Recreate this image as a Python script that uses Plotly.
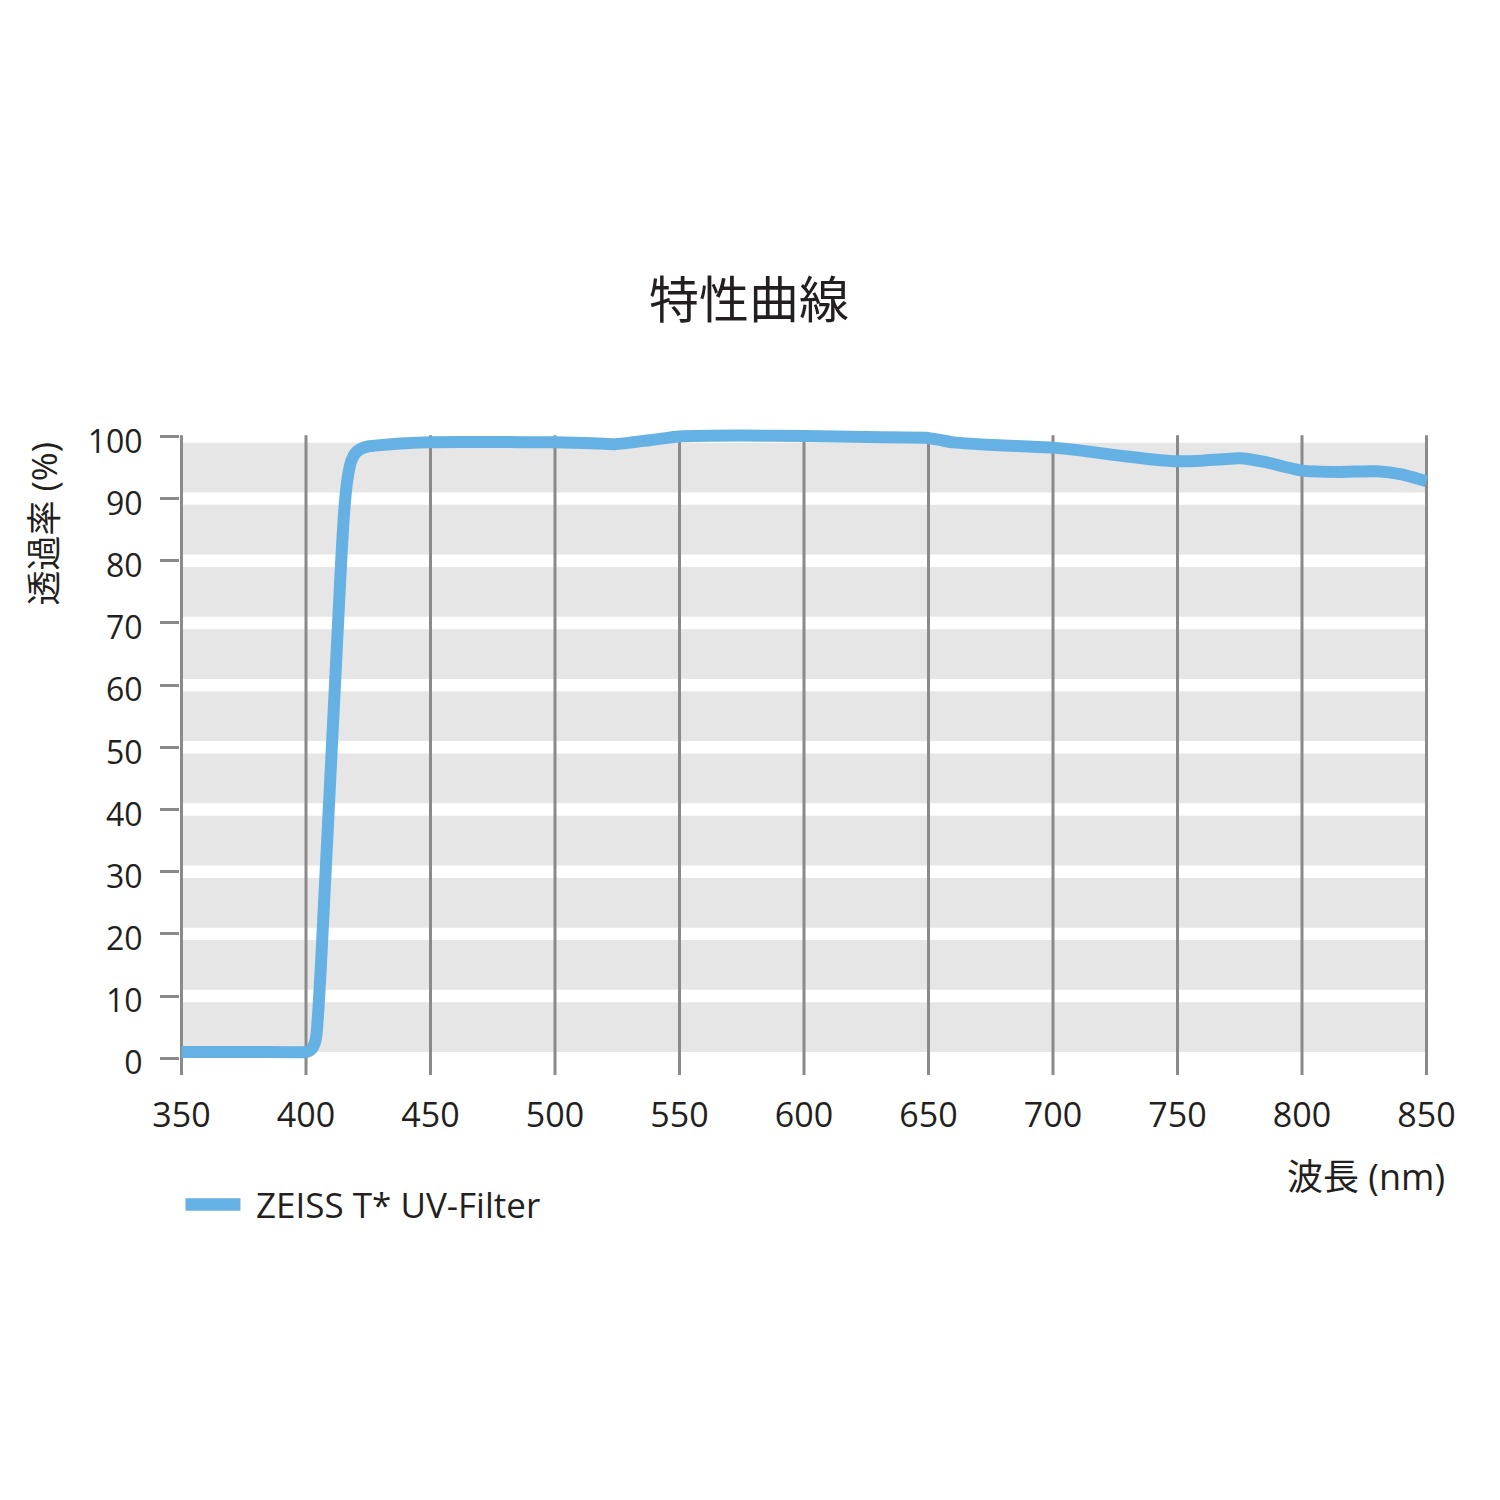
import plotly.graph_objects as go

# ---------------- data ----------------
wavelength = [350, 380, 400, 401.5, 402.5, 403.5, 404.2, 405, 406, 407, 408, 409, 410,
              411, 412, 413, 414, 415, 416, 417, 418, 419, 420, 422, 425, 430, 440, 450,
              475, 500, 515, 524, 538, 550, 575, 600, 625, 649, 655, 660, 680, 690, 700,
              710, 725, 740, 750, 760, 775, 785, 800, 815, 830, 840, 850]
transmittance = [1.0, 1.0, 1.0, 1.2, 1.6, 2.4, 3.8, 8, 15, 23, 31, 39, 47,
                 55, 63, 71, 79, 86, 91, 94, 95.8, 96.8, 97.4, 98.0, 98.4, 98.6, 98.9, 99.05,
                 99.1, 99.05, 98.9, 98.75, 99.4, 100.0, 100.15, 100.05, 99.9, 99.8, 99.4, 99.05, 98.55, 98.4, 98.2,
                 97.8, 97.0, 96.3, 96.0, 96.1, 96.5, 95.9, 94.5, 94.3, 94.4, 93.9, 92.8]

x_ticks = [350, 400, 450, 500, 550, 600, 650, 700, 750, 800, 850]
y_ticks = [0, 10, 20, 30, 40, 50, 60, 70, 80, 90, 100]

title_text = "特性曲線"
y_title = "透過率 (%)"
x_title = "波長 (nm)"
series_name = "ZEISS T* UV-Filter"

# ---------------- style ----------------
OFF = 8                     # page body margin offset
W, H = 1500 - 2 * OFF, 1500 - 2 * OFF
L = 181 - OFF - 1.5
R = W - (1428.5 - OFF)
T = 424 - OFF
B = H - (1075 - OFF)
PW, PH = W - L - R, H - T - B
BLUE = "#66b1e3"
GRID = "#8a8a8a"
BAND = "#e6e6e6"
TXT = "#231f20"
LATIN = "Open Sans, Noto Sans CJK JP, sans-serif"
CJK = "Noto Sans CJK JP, sans-serif"
Y_MIN, Y_MAX = -2.7, 102


def px_x(p):
    return (p - OFF - L) / PW


def px_y(p):
    return (H - B - (p - OFF)) / PH


fig = go.Figure()
fig.add_trace(go.Scatter(
    x=wavelength, y=transmittance, mode="lines",
    line=dict(color=BLUE, width=12, shape="spline", smoothing=0.5),
    name=series_name, showlegend=False, hoverinfo="x+y"))

shapes = []
# gray bands between the decade ticks
for k in y_ticks[:-1]:
    shapes.append(dict(type="rect", xref="x", yref="y", x0=x_ticks[0], x1=x_ticks[-1],
                       y0=k + 1, y1=k + 9, fillcolor=BAND, line=dict(width=0), layer="below"))
# vertical grid lines (also the left axis line)
for xv in x_ticks:
    shapes.append(dict(type="line", xref="x", yref="y", x0=xv, x1=xv, y0=Y_MIN, y1=100.2,
                       line=dict(color=GRID, width=3), layer="below"))
# manual legend swatch
shapes.append(dict(type="line", xref="paper", yref="paper", x0=px_x(185), x1=px_x(240),
                   y0=px_y(1204.5), y1=px_y(1204.5), line=dict(color=BLUE, width=12.5)))

annotations = [
    dict(text=y_title, xref="paper", yref="paper", x=px_x(42), y=px_y(524),
         xanchor="center", yanchor="middle", textangle=-90, showarrow=False,
         font=dict(family=LATIN, size=35, color=TXT)),
    dict(text=x_title, xref="paper", yref="paper", x=px_x(1448), y=px_y(1176),
         xanchor="right", yanchor="middle", showarrow=False,
         font=dict(family=LATIN, size=36, color=TXT)),
    dict(text=series_name, xref="paper", yref="paper", x=px_x(254), y=px_y(1204),
         xanchor="left", yanchor="middle", showarrow=False,
         font=dict(family=LATIN, size=35, color=TXT)),
]

fig.update_layout(
    width=W, height=H,
    margin=dict(l=L, r=R, t=T, b=B, autoexpand=False),
    paper_bgcolor="white", plot_bgcolor="white",
    title=dict(text=title_text, x=(749 - OFF) / W, xref="container",
               y=1 - (300 - OFF) / H, yref="container",
               xanchor="center", yanchor="middle",
               font=dict(family=CJK, size=50, color=TXT)),
    shapes=shapes, annotations=annotations,
    showlegend=False,
    xaxis=dict(range=[349.4, 850.6], tickvals=x_ticks, ticktext=[str(v) for v in x_ticks],
               showgrid=False, zeroline=False, showline=False, ticks="",
               ticklabelstandoff=17,
               tickfont=dict(family=LATIN, size=34, color=TXT)),
    yaxis=dict(range=[Y_MIN, Y_MAX], tickvals=y_ticks, ticktext=[str(v) for v in y_ticks],
               showgrid=False, zeroline=False, showline=False,
               ticks="outside", ticklen=19, tickwidth=3, tickcolor=GRID,
               ticklabelstandoff=11, ticklabelshift=5,
               tickfont=dict(family=LATIN, size=32, color=TXT)),
)

fig.write_html("out.html")
